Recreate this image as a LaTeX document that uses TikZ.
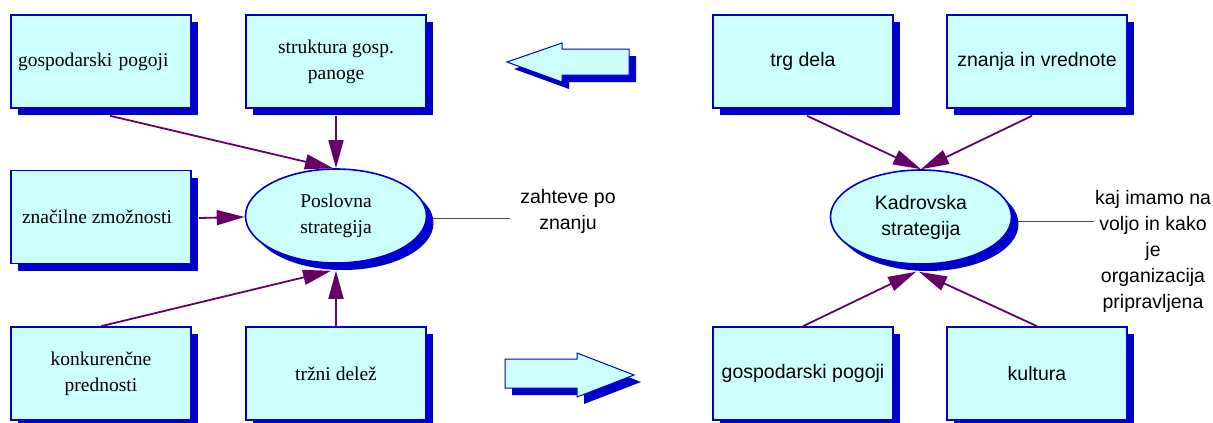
\documentclass[tikz,border=0pt]{standalone}
\usepackage{fontspec}
\setmainfont{Liberation Serif}
\newfontfamily\sansf{Liberation Sans}
\usetikzlibrary{arrows.meta,shapes.geometric,shadows}
\definecolor{boxfill}{RGB}{204,255,255}
\definecolor{boxblue}{RGB}{0,0,204}
\definecolor{conpurple}{RGB}{102,0,102}
\pgfdeclarelayer{bg}
\pgfsetlayers{bg,main}
\begin{document}
\begin{tikzpicture}[x=1pt,y=-1pt,
  txt/.style={font=\fontsize{19.5}{26}\selectfont, align=center, inner sep=0pt},
  sans/.style={font=\sansf\fontsize{19.5}{26}\selectfont},
  blueshadow/.style={drop shadow={shadow xshift=7pt, shadow yshift=-7pt, opacity=1, fill=boxblue}},
  box/.style={txt, draw=boxblue, line width=1.6pt, fill=boxfill, minimum width=180pt, minimum height=93pt, blueshadow},
  oval/.style={txt, ellipse, draw=boxblue, line width=1.6pt, fill=boxfill, minimum width=181pt, minimum height=94pt, blueshadow},
  conn/.style={draw=conpurple, line width=1.8pt, -{Triangle[length=28pt,width=15pt]}},
  note/.style={draw=black!70, line width=0.8pt},
  barrow/.style={fill=boxfill, draw=boxblue, line width=1pt},
  bshadow/.style={fill=boxblue}
]
\useasboundingbox (0,0) rectangle (1213,423);

% left part
\node[box, text width=166pt, inner xsep=7pt, align=left] (g1) at (101,61.5) {gospodarski pogoji};
\node[box] (sg) at (336,61.5) {struktura gosp.\\panoge};
\node[box] (zz) at (101,217) {\hspace*{-8pt}značilne zmožnosti};
\node[box] (kp) at (101,373.5) {konkurenčne\\prednosti};
\node[box] (td) at (336,373.5) {tržni delež};

\node[txt, sans] (zn) at (568,211) {zahteve po\\znanju};
\coordinate (zl) at (510,218);

\node[oval] (ps) at (336,216) {Poslovna\\strategija};
\begin{pgfonlayer}{bg}
\draw[note] ([shift={(0,2)}]ps.east) -- (zl);
\end{pgfonlayer}

\draw[conn] ([shift={(9,7)}]g1.south) -- ([shift={(-3,0)}]ps.north);
\draw[conn] ([shift={(0,7)}]sg.south) -- (ps.north);
\draw[conn] ([shift={(7,1)}]zz.east) -- ([shift={(0,1)}]ps.west);
\draw[conn] (kp.north) -- ([shift={(-5,7)}]ps.south);
\draw[conn] (td.north) -- ([shift={(0,7)}]ps.south);

% block arrows
\begin{scope}[shift={(7,7)}]
\fill[bshadow] (507,62) -- (562,43) -- (562,49) -- (629,49) -- (629,75) -- (562,75) -- (562,82) -- cycle;
\fill[bshadow] (505,359) -- (577,359) -- (577,353) -- (634,375) -- (577,397) -- (577,388) -- (505,388) -- cycle;
\end{scope}
\filldraw[barrow] (507,62) -- (562,43) -- (562,49) -- (629,49) -- (629,75) -- (562,75) -- (562,82) -- cycle;
\filldraw[barrow] (505,359) -- (577,359) -- (577,353) -- (634,375) -- (577,397) -- (577,388) -- (505,388) -- cycle;

% right part
\node[box, sans] (tg) at (803,61.5) {trg dela};
\node[box, sans] (zv) at (1037,61.5) {znanja in vrednote};
\node[box, sans] (gp) at (803,373.5) {gospodarski pogoji};
\node[box, sans] (ku) at (1037,373.5) {kultura};
\node[txt, sans] (ki) at (1153,251) {kaj imamo na\\voljo in kako\\je\\organizacija\\pripravljena};
\coordinate (kl) at (1094,221);
\node[oval, sans] (ks) at (921,217) {Kadrovska\\strategija};
\begin{pgfonlayer}{bg}
\draw[note] ([shift={(0,4)}]ks.east) -- (kl);
\end{pgfonlayer}

\draw[conn] ([shift={(4,7)}]tg.south) -- (ks.north);
\draw[conn] ([shift={(-5,7)}]zv.south) -- (ks.north);
\draw[conn] (gp.north) -- ([shift={(-5,7)}]ks.south);
\draw[conn] (ku.north) -- ([shift={(-2,7)}]ks.south);
\end{tikzpicture}
\end{document}
